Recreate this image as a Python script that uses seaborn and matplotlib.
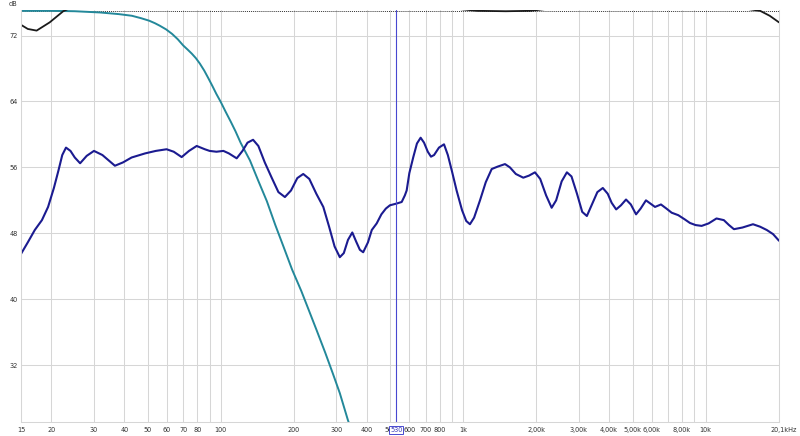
import matplotlib
matplotlib.use("Agg")
import matplotlib.pyplot as plt
import matplotlib.transforms as mtransforms
import seaborn as sns

# ---- measured response (navy) ----
resp_freq = [15, 16, 17.1, 18.3, 19.4, 20.5, 21.4, 22.2, 23.0, 24.0, 25.0, 26.3, 28, 30, 32.5,
             36.6, 39.5, 42.9, 48.8, 54, 59.8, 64, 69, 74, 79.6, 86, 90, 96, 102.6, 108,
             116.4, 123, 129, 136, 143, 152, 162, 173, 184, 195, 207, 219, 232, 248, 265,
             280, 295, 310, 322, 335, 349, 362, 375, 387, 405, 420, 440, 460, 480, 499,
             530, 558, 575, 585, 600, 623, 645, 668, 690, 715, 737, 759, 795, 834, 865,
             900, 940, 990, 1030, 1067, 1110, 1174, 1240, 1312, 1390, 1489, 1560, 1650, 1771, 1870,
             1979, 2080, 2200, 2319, 2420, 2550, 2680, 2800, 2950, 3100, 3240, 3400, 3580, 3770, 3950,
             4100, 4280, 4480, 4700, 4920, 5170, 5400, 5680, 5930, 6190, 6550, 6900, 7250, 7720, 8200,
             8630, 9100, 9640, 10300, 11100, 11900, 12500, 13100, 14200, 15700, 16800, 17900, 19000, 20100]
resp_db = [45.5, 46.9, 48.4, 49.6, 51.2, 53.5, 55.6, 57.5, 58.4, 58.0, 57.2, 56.5, 57.4, 58.0, 57.5,
           56.2, 56.6, 57.2, 57.7, 58.0, 58.2, 57.9, 57.25, 58.0, 58.6, 58.2, 58.0, 57.9, 58.0, 57.7,
           57.1, 58.0, 59.0, 59.35, 58.6, 56.6, 54.8, 53.0, 52.4, 53.2, 54.7, 55.2, 54.6, 52.8, 51.2,
           48.8, 46.4, 45.1, 45.6, 47.2, 48.1, 47.0, 46.0, 45.7, 46.9, 48.4, 49.2, 50.3, 51.0, 51.4,
           51.6, 51.8, 52.6, 53.2, 55.3, 57.25, 58.9, 59.6, 59.0, 57.9, 57.3, 57.5, 58.4, 58.8, 57.5,
           55.5, 53.2, 50.8, 49.5, 49.1, 49.9, 52.0, 54.2, 55.8, 56.1, 56.4, 56.0, 55.2, 54.75, 55.0,
           55.4, 54.6, 52.6, 51.1, 52.0, 54.3, 55.4, 54.9, 52.8, 50.6, 50.1, 51.5, 53.0, 53.5, 52.8,
           51.7, 50.9, 51.4, 52.1, 51.5, 50.3, 51.0, 52.0, 51.6, 51.2, 51.5, 51.0, 50.5, 50.2, 49.7,
           49.25, 49.0, 48.9, 49.2, 49.8, 49.6, 49.0, 48.5, 48.7, 49.1, 48.8, 48.4, 47.9, 47.1]

# ---- low-pass target (teal) ----
lp_freq = [15, 20, 25, 31.8, 38, 43, 47, 50.7, 53.5, 56, 59.5, 63, 66.5, 70, 73, 76, 79, 82,
           85.5, 89, 92.5, 96, 100, 105, 110, 115, 121, 132, 143, 155, 168, 182, 197, 215,
           230, 249, 270, 290, 310, 335, 370]
lp_db = [75.0, 75.0, 74.95, 74.8, 74.6, 74.4, 74.1, 73.8, 73.5, 73.2, 72.75, 72.2, 71.55, 70.8,
         70.3, 69.8, 69.25, 68.6, 67.75, 66.8, 65.85, 64.9, 63.95, 62.7, 61.55, 60.4, 58.95,
         56.85, 54.35, 51.9, 49.0, 46.3, 43.6, 41.0, 38.8, 36.2, 33.5, 31.0, 28.6, 25.3, 21.8]

# ---- black trace (mostly above the top of the view) ----
blk_freq = [15, 16, 17.4, 19.7, 22.4, 25, 100, 900, 1150, 1500, 1900, 2300, 10000, 16800, 18400, 20100]
blk_db = [73.3, 72.8, 72.6, 73.6, 74.95, 75.6, 76.0, 75.3, 75.0, 74.95, 75.0, 75.3, 76.0, 75.0, 74.4, 73.6]

# ---- axis labels ----
x_ticks = [15, 20, 30, 40, 50, 60, 70, 80, 100, 200, 300, 400, 500, 600, 700, 800, 1000,
           2000, 3000, 4000, 5000, 6000, 8000, 10000, 20100]
x_labels = ["15", "20", "30", "40", "50", "60", "70", "80", "100", "200", "300", "400", "500",
            "600", "700", "800", "1k", "2,00k", "3,00k", "4,00k", "5,00k", "6,00k", "8,00k",
            "10k", "20,1kHz"]
x_minor = [90, 900, 7000, 9000]
y_ticks = [32, 40, 48, 56, 64, 72]
cursor_freq = 530
ref_level = 75

sns.set_style("white")
plt.rcParams["font.family"] = ["DejaVu Sans"]
plt.rcParams["font.stretch"] = "condensed"

fig = plt.figure(figsize=(8, 4.36), dpi=100)
ax = fig.add_axes([21 / 800, 14 / 436, 758 / 800, 412 / 436])

grid_c = "#d6d6d6"
label_c = "#333333"
ax.set_xscale("log")
ax.set_xlim(15, 20100)
ax.set_ylim(25.1, 75.1)

# last label is drawn separately so it can sit inside the figure edge
ax.set_xticks(x_ticks)
ax.set_xticklabels(x_labels[:-1] + [""])
ax.set_xticks(x_minor, minor=True)
ax.set_xticklabels([], minor=True)
ax.set_yticks(y_ticks)
ax.set_yticklabels([str(v) for v in y_ticks])
ax.grid(True, which="both", color=grid_c, linewidth=0.75)
ax.set_axisbelow(True)
ax.tick_params(axis="both", which="both", length=0, labelsize=5.2, colors=label_c)
ax.tick_params(axis="x", pad=3.5)
ax.tick_params(axis="y", pad=2.5)

trans = mtransforms.blended_transform_factory(ax.transData, ax.transAxes)
ax.annotate(x_labels[-1], xy=(1 - 3 / 800, 0), xycoords=("figure fraction", "axes fraction"),
            xytext=(0, -3.5), textcoords="offset points", ha="right", va="top",
            fontsize=5.2, color=label_c, annotation_clip=False)

for side in ["left", "bottom", "right"]:
    ax.spines[side].set_color(grid_c)
    ax.spines[side].set_linewidth(0.75)
ax.spines["top"].set_visible(False)

ax.axhline(ref_level, color=label_c, linewidth=0.7, linestyle=(0, (1, 1)))

sns.lineplot(x=lp_freq, y=lp_db, ax=ax, color="#23889a", linewidth=1.4)
sns.lineplot(x=blk_freq, y=blk_db, ax=ax, color="#1a1a1a", linewidth=1.3)
sns.lineplot(x=resp_freq, y=resp_db, ax=ax, color="#1b1b90", linewidth=1.5)

ax.axvline(cursor_freq, color="#4848d0", linewidth=0.8)

ax.text(cursor_freq, -0.012, str(cursor_freq), transform=trans, ha="center", va="top",
        fontsize=5.2, color="#3a3ab8",
        bbox=dict(boxstyle="square,pad=0.12", facecolor="white", edgecolor="#4848d0", linewidth=0.7))

fig.text(13 / 800, 1 - 4 / 436, "dB", fontsize=5.2, color=label_c, ha="center", va="center")

fig.savefig("out.png", dpi=100)
